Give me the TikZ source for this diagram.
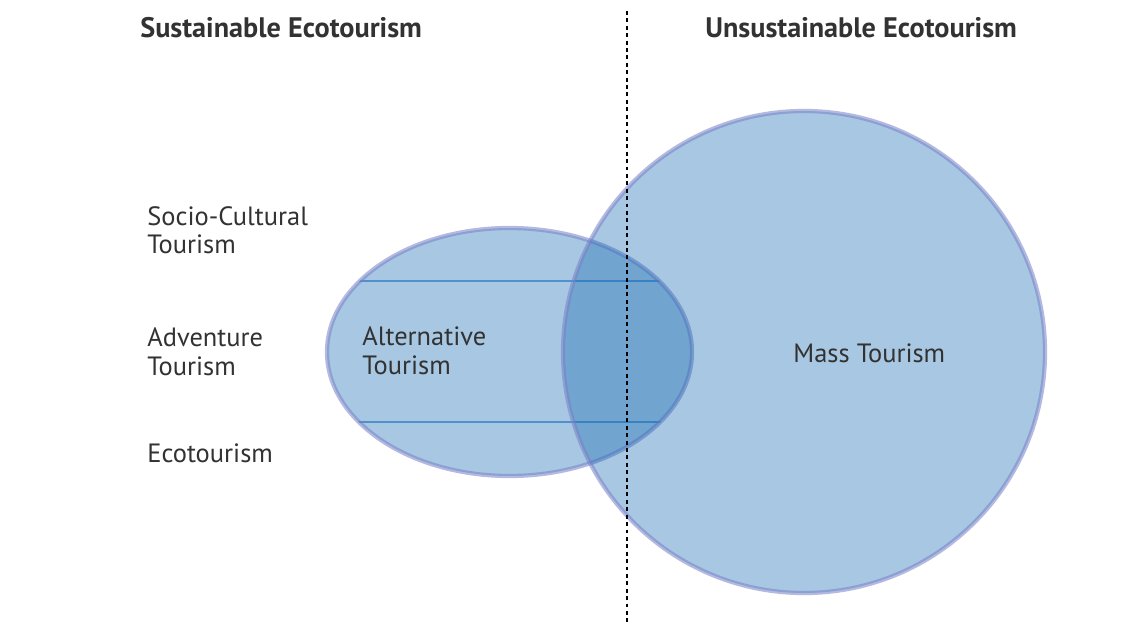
\documentclass[tikz,border=0pt]{standalone}
\usepackage{fontspec}
\setmainfont{PT Sans}
\usetikzlibrary{calc}

\definecolor{vennblue}{RGB}{16,102,175}
\definecolor{rimblue}{RGB}{120,128,200}
\definecolor{chordblue}{RGB}{80,145,205}
\definecolor{inkgrey}{RGB}{50,50,50}

\begin{document}
\begin{tikzpicture}[x=0.567pt,y=-0.567pt,
    labeltext/.style={font=\fontsize{15}{15.9}\selectfont, text=inkgrey, anchor=base west, align=left, inner sep=0pt},
    headtext/.style={font=\fontsize{16}{18}\bfseries\selectfont, text=inkgrey, anchor=base west, inner sep=0pt},
    vennset/.style={fill=vennblue, fill opacity=0.36, draw=rimblue, draw opacity=0.55, line width=2.4}]

    % Canvas
    \fill[white] (0,0) rectangle (1145,623);
    \useasboundingbox (0,0) rectangle (1145,623);

    % Centres of the two sets
    \coordinate (alt) at (509.5,352);
    \coordinate (mass) at (804,352);

    % Alternative tourism (ellipse) with its bands
    \fill[vennblue, opacity=0.36] (alt) ellipse [x radius=182.5, y radius=124];
    \begin{scope}
        \clip (alt) ellipse [x radius=182.5, y radius=124];
        \draw[chordblue, line width=1.1] ($(alt)+(-200,-71)$) -- ($(alt)+(200,-71)$);
        \draw[chordblue, line width=1.1] ($(alt)+(-200,70)$) -- ($(alt)+(200,70)$);
    \end{scope}
    \draw[rimblue, opacity=0.55, line width=2.4] (alt) ellipse [x radius=182.5, y radius=124];

    % Mass tourism (circle)
    \draw[vennset] (mass) circle [radius=241];

    % Divider
    \coordinate (top) at (627,11);
    \coordinate (bottom) at (627,623);
    \draw[black, line width=1.5pt, dash pattern=on 2.2pt off 2pt] (top) -- (bottom);

    % Headings
    \node[headtext] (sust) at (140,38) {Sustainable Ecotourism};
    \node[headtext] (unsust) at (705,38) {Unsustainable Ecotourism};

    % Kinds of sustainable tourism
    \node[labeltext] (socio) at (147,254) {Socio-Cultural\\Tourism};
    \node[labeltext] (adventure) at (147,375) {Adventure\\Tourism};
    \node[labeltext] (eco) at (147,462) {Ecotourism};

    % Set labels
    \node[labeltext] (alternative) at (362,374) {Alternative\\Tourism};
    \node[labeltext] (masslabel) at (793,362) {Mass Tourism};
\end{tikzpicture}
\end{document}
